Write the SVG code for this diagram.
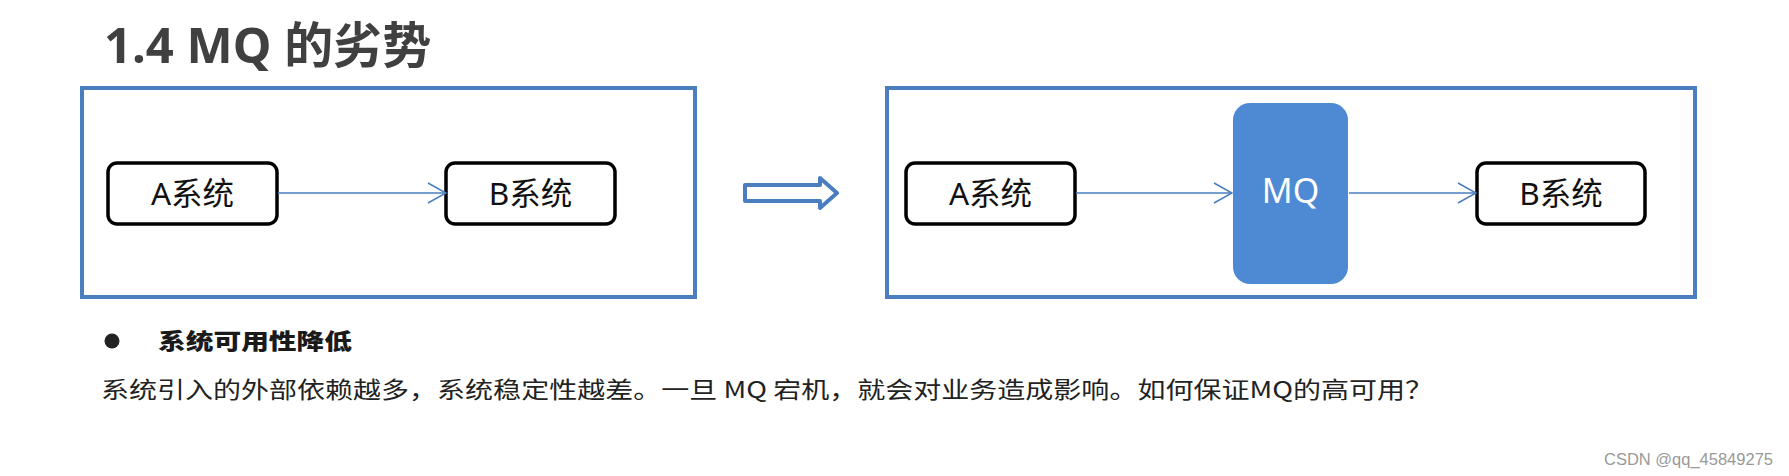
<svg xmlns="http://www.w3.org/2000/svg" width="1789" height="476" viewBox="0 0 1789 476">
<defs>
<style>
.frame{fill:none;stroke:#4a7ebf;stroke-width:4}
.node{fill:#fff;stroke:#000;stroke-width:3.5}
.mq{fill:#4e8ad4}
.lbl{font-family:"Noto Sans","Noto Sans CJK SC",sans-serif;font-size:31.5px;fill:#111;text-anchor:middle}
.mqt{font-family:"Noto Sans","Noto Sans CJK SC",sans-serif;font-size:34px;fill:#fff;text-anchor:middle}
.conn{stroke:#4a7ebf;stroke-width:1.6;fill:none}
.title{font-family:"Noto Sans","Noto Sans CJK SC",sans-serif;font-size:49px;font-weight:bold;fill:#404040}
.body{font-family:"Noto Sans CJK SC",sans-serif;font-size:23px;fill:#222}
.head{font-family:"Noto Sans CJK SC",sans-serif;font-size:22px;font-weight:900;fill:#1a1a1a}
.wm{font-family:"Liberation Sans",Arial,sans-serif;font-size:16.5px;fill:#999;text-anchor:end}
</style>
<marker id="arr" viewBox="0 0 20 22" refX="19" refY="11" markerWidth="20" markerHeight="22" markerUnits="userSpaceOnUse" orient="auto">
<polyline points="1,1 19,11 1,21" fill="none" stroke="#4a7ebf" stroke-width="1.6"/>
</marker>
</defs>
<rect width="1789" height="476" fill="#fff"/>
<g id="title"><text class="title" x="104" y="63">1.4 MQ 的劣势</text></g>
<g id="frame-left"><rect class="frame" x="82" y="88" width="613" height="209"/></g>
<g id="frame-right"><rect class="frame" x="887" y="88" width="808" height="209"/></g>
<g id="a-left"><rect class="node" x="108" y="163" width="169" height="61" rx="9"/><text class="lbl" x="192.5" y="205">A系统</text></g>
<g id="b-left"><rect class="node" x="446" y="163" width="169" height="61" rx="9"/><text class="lbl" x="530.5" y="205">B系统</text></g>
<g id="transform-arrow"><polygon points="745,185 820,185 820,178 837,193 820,208 820,201 745,201" fill="#fff" stroke="#4a7ebf" stroke-width="4" stroke-linejoin="round"/></g>
<g id="a-right"><rect class="node" x="906" y="163" width="169" height="61" rx="9"/><text class="lbl" x="990.5" y="205">A系统</text></g>
<g id="mq"><rect class="mq" x="1233" y="103" width="115" height="181" rx="17"/><text class="mqt" x="1290.5" y="203">MQ</text></g>
<g id="b-right"><rect class="node" x="1477" y="163" width="168" height="61" rx="9"/><text class="lbl" x="1561" y="205">B系统</text></g>
<g id="connectors">
<line class="conn" x1="278" y1="193" x2="446" y2="193" marker-end="url(#arr)"/>
<line class="conn" x1="1076" y1="193" x2="1232" y2="193" marker-end="url(#arr)"/>
<line class="conn" x1="1349" y1="193" x2="1476" y2="193" marker-end="url(#arr)"/>
</g>
<g id="bullet"><circle cx="112" cy="341" r="7.5" fill="#222"/><text class="head" x="158" y="349" textLength="194" lengthAdjust="spacingAndGlyphs">系统可用性降低</text></g>
<g id="body"><text class="body" x="101" y="398" textLength="1332" lengthAdjust="spacingAndGlyphs">系统引入的外部依赖越多，系统稳定性越差。一旦 MQ 宕机，就会对业务造成影响。如何保证MQ的高可用？</text></g>
<g id="watermark"><text class="wm" x="1773" y="465">CSDN @qq_45849275</text></g>
</svg>
